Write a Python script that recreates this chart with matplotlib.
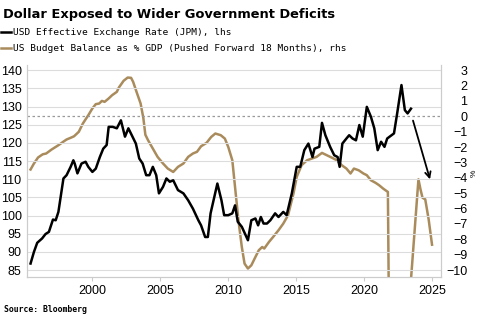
import numpy as np
import matplotlib.pyplot as plt
from matplotlib.lines import Line2D

# USD effective exchange rate (JPM), lhs
fx_years = [1995.45, 1995.7, 1995.94, 1996.3, 1996.55, 1996.8, 1997.1, 1997.3, 1997.5, 1997.87,
            1998.1, 1998.4, 1998.6, 1998.7, 1998.9, 1999.2, 1999.5, 1999.7, 2000.0, 2000.25,
            2000.55, 2000.8, 2001.05, 2001.2, 2001.5, 2001.8, 2002.1, 2002.4, 2002.65, 2002.9,
            2003.2, 2003.45, 2003.7, 2003.96, 2004.2, 2004.45, 2004.7, 2004.9, 2005.2, 2005.45,
            2005.7, 2005.95, 2006.3, 2006.7, 2007.05, 2007.4, 2007.8, 2008.0, 2008.3, 2008.5,
            2008.7, 2009.2, 2009.5, 2009.7, 2010.0, 2010.3, 2010.5, 2010.7, 2011.0, 2011.45,
            2011.7, 2012.0, 2012.2, 2012.4, 2012.6, 2012.85, 2013.1, 2013.45, 2013.7, 2014.05,
            2014.3, 2014.68, 2015.04, 2015.3, 2015.6, 2015.9, 2016.2, 2016.35, 2016.7, 2016.9,
            2017.15, 2017.5, 2017.8, 2018.05, 2018.2, 2018.4, 2018.7, 2018.9, 2019.15, 2019.4,
            2019.65, 2019.9, 2020.2, 2020.5, 2020.75, 2021.0, 2021.25, 2021.5, 2021.7, 2022.2,
            2022.45, 2022.75, 2023.0, 2023.2, 2023.45]
fx_values = [86.8, 90.0, 92.5, 93.7, 94.9, 95.5, 98.9, 98.7, 101.0, 110.2,
             111.1, 113.4, 115.2, 114.3, 111.6, 114.3, 114.8, 113.4, 112.0, 112.9,
             116.1, 118.4, 119.4, 124.4, 124.4, 124.0, 126.2, 121.7, 124.0, 122.1,
             119.8, 115.7, 114.3, 111.1, 111.1, 113.4, 111.1, 106.1, 107.9, 110.2,
             109.3, 109.7, 107.0, 106.1, 104.2, 101.9, 98.7, 97.3, 94.1, 94.1,
             100.6, 108.8, 104.2, 100.1, 100.1, 100.6, 102.8, 98.3, 96.9, 93.2,
             98.7, 99.2, 97.3, 99.6, 97.8, 97.8, 98.7, 100.6, 99.6, 101.0,
             100.1, 106.1, 113.4, 113.4, 118.0, 119.8, 116.1, 118.4, 118.9, 125.5,
             122.1, 118.9, 116.6, 116.1, 113.4, 119.8, 121.2, 122.1, 121.2, 120.7,
             124.9, 121.7, 129.9, 127.2, 124.0, 118.0, 120.3, 118.9, 121.2, 122.6,
             128.5, 135.9, 129.0, 128.1, 129.4]

# US budget balance as % GDP (pushed forward 18 months), rhs
bb_years = [1995.45, 1995.7, 1996.0, 1996.35, 1996.6, 1997.0, 1997.5, 1997.85, 1998.1, 1998.45,
            1998.65, 1999.0, 1999.3, 1999.7, 2000.0, 2000.25, 2000.5, 2000.7, 2000.9, 2001.2,
            2001.45, 2001.8, 2001.95, 2002.3, 2002.6, 2002.85, 2003.0, 2003.25, 2003.55, 2003.75,
            2003.9, 2004.1, 2004.45, 2004.8, 2005.2, 2005.55, 2005.95, 2006.3, 2006.7, 2007.05,
            2007.4, 2007.7, 2008.0, 2008.4, 2008.75, 2009.05, 2009.45, 2009.75, 2010.0, 2010.3,
            2010.5, 2010.75, 2011.0, 2011.2, 2011.45, 2011.7, 2012.0, 2012.25, 2012.5, 2012.65,
            2013.0, 2013.3, 2013.7, 2014.05, 2014.4, 2014.8, 2015.04, 2015.4, 2015.8, 2016.15,
            2016.5, 2016.9, 2017.25, 2017.6, 2018.0, 2018.35, 2018.7, 2019.0, 2019.25, 2019.6,
            2019.95, 2020.2, 2020.5, 2020.85, 2021.1, 2021.4, 2021.75, 2021.85, 2022.5, 2023.3,
            2024.0, 2024.15, 2024.3, 2024.5, 2024.75, 2025.0]
bb_values = [-3.46, -3.07, -2.68, -2.47, -2.42, -2.16, -1.88, -1.66, -1.51, -1.38,
             -1.30, -1.01, -0.47, 0.07, 0.51, 0.79, 0.83, 1.0, 0.94, 1.16,
             1.37, 1.59, 1.87, 2.31, 2.52, 2.50, 2.24, 1.59, 0.83, -0.1,
             -1.2, -1.56, -2.10, -2.64, -3.07, -3.40, -3.62, -3.29, -3.07, -2.64,
             -2.42, -2.31, -1.95, -1.73, -1.34, -1.12, -1.23, -1.45, -1.99, -2.86,
             -4.59, -6.76, -8.5, -9.58, -9.9, -9.69, -9.15, -8.71, -8.5, -8.6,
             -8.17, -7.85, -7.41, -6.98, -6.44, -5.03, -3.94, -3.18, -2.86, -2.75,
             -2.64, -2.38, -2.53, -2.68, -2.86, -3.18, -3.40, -3.72, -3.40, -3.51,
             -3.72, -3.83, -4.16, -4.33, -4.48, -4.70, -4.92, -14.9, -15.0, -12.4,
             -4.1, -4.75, -5.3, -5.4, -6.7, -8.35]

left_ticks = [85, 90, 95, 100, 105, 110, 115, 120, 125, 130, 135, 140]
right_ticks = [3, 2, 1, 0, -1, -2, -3, -4, -5, -6, -7, -8, -9, -10]
year_ticks = [2000, 2005, 2010, 2015, 2020, 2025]

gold = '#a98b5c'
grid_c = '#dcdcdc'
tick_font = 'Liberation Sans'

fig = plt.figure(figsize=(4.85, 3.27), dpi=100)
ax = fig.add_axes([0.056, 0.153, 0.853, 0.648])
ax2 = ax.twinx()
ax.set_zorder(ax2.get_zorder() + 1)
ax.patch.set_visible(False)

ax.plot(fx_years, fx_values, color='black', lw=1.8, solid_joinstyle='round')
ax2.plot(bb_years, bb_values, color=gold, lw=1.8, solid_joinstyle='round')
ax2.axhline(0, color='#999999', lw=0.9, ls=(0, (2, 2)))

lo, hi = 83.1, 141.4
ax.set_ylim(lo, hi)
ax2.set_ylim((lo - 85) * 13 / 55 - 10, (hi - 85) * 13 / 55 - 10)
ax.set_xlim(1995.2, 2025.65)

ax.set_yticks(left_ticks)
ax2.set_yticks(right_ticks)
ax.set_xticks(year_ticks)
ax.grid(axis='y', color=grid_c, lw=0.8)
ax.set_axisbelow(True)

for a in (ax, ax2):
    for s in a.spines.values():
        s.set_color('#cccccc')
        s.set_linewidth(0.8)
    a.spines['top'].set_visible(False)
ax.tick_params(axis='y', length=0, pad=4)
ax.tick_params(axis='x', length=3, color='#cccccc', pad=3)
ax2.tick_params(axis='y', length=0, pad=19)
for lab in ax.get_yticklabels() + ax.get_xticklabels():
    lab.set_fontfamily(tick_font)
    lab.set_fontsize(9)
for lab in ax2.get_yticklabels():
    lab.set_fontfamily(tick_font)
    lab.set_fontsize(9)
    lab.set_horizontalalignment('right')

ax2.text(1.08, 0.49, '%', transform=ax.transAxes, rotation=90, fontsize=6,
         ha='center', va='center', family=tick_font)

# arrow drawn in the right-axis units, on the top axes so it sits above everything
ax.annotate('', xy=(2024.85, -4.1), xytext=(2023.6, -0.28),
            xycoords=ax2.transData, textcoords=ax2.transData,
            arrowprops=dict(arrowstyle='->', color='black', lw=1.3,
                            shrinkA=0, shrinkB=0))

fig.text(0.006, 0.955, 'Dollar Exposed to Wider Government Deficits',
         fontsize=9.4, fontweight='bold', family='DejaVu Sans', va='center')
handles = [Line2D([], [], color='black', lw=1.8), Line2D([], [], color=gold, lw=1.8)]
labels = ['USD Effective Exchange Rate (JPM), lhs',
          'US Budget Balance as % GDP (Pushed Forward 18 Months), rhs']
fig.legend(handles, labels, loc='upper left', bbox_to_anchor=(0.0, 0.916),
           frameon=False, prop={'family': 'DejaVu Sans Mono', 'size': 6.8},
           handlelength=1.1, handletextpad=0.2, labelspacing=0.75, borderaxespad=0,
           borderpad=0.1)
fig.text(0.008, 0.052, 'Source: Bloomberg', fontsize=5.9, fontweight='bold',
         family='DejaVu Sans Mono', va='center')

fig.savefig('out.png', dpi=100)
